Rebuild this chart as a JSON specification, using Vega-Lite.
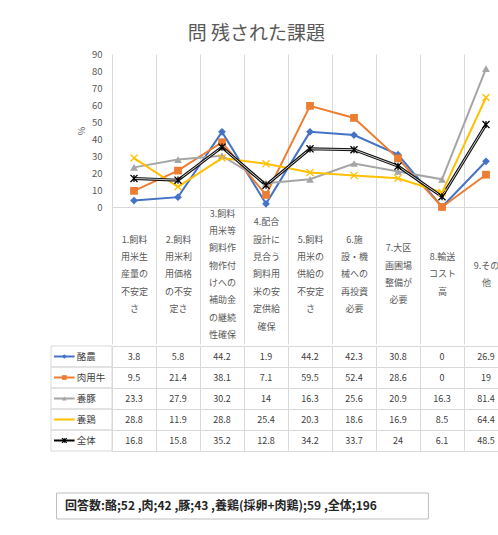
{
  "$schema": "https://vega.github.io/schema/vega-lite/v6.json",
  "padding": {"left": 50, "top": 25, "right": 0, "bottom": 0},
  "background": "white",
  "config": {
    "font": "Noto Sans CJK JP",
    "view": {"stroke": null},
    "axis": {"labelOverlap": false}
  },
  "title": {
    "text": "問 残された課題",
    "fontSize": 19,
    "fontWeight": "normal",
    "color": "#595959",
    "anchor": "middle",
    "dx": -23,
    "offset": 5
  },
  "datasets": {
    "vals": [
      {"n": 1, "series": "酪農", "v": 3.8}, {"n": 2, "series": "酪農", "v": 5.8}, {"n": 3, "series": "酪農", "v": 44.2},
      {"n": 4, "series": "酪農", "v": 1.9}, {"n": 5, "series": "酪農", "v": 44.2}, {"n": 6, "series": "酪農", "v": 42.3},
      {"n": 7, "series": "酪農", "v": 30.8}, {"n": 8, "series": "酪農", "v": 0}, {"n": 9, "series": "酪農", "v": 26.9},
      {"n": 1, "series": "肉用牛", "v": 9.5}, {"n": 2, "series": "肉用牛", "v": 21.4}, {"n": 3, "series": "肉用牛", "v": 38.1},
      {"n": 4, "series": "肉用牛", "v": 7.1}, {"n": 5, "series": "肉用牛", "v": 59.5}, {"n": 6, "series": "肉用牛", "v": 52.4},
      {"n": 7, "series": "肉用牛", "v": 28.6}, {"n": 8, "series": "肉用牛", "v": 0}, {"n": 9, "series": "肉用牛", "v": 19},
      {"n": 1, "series": "養豚", "v": 23.3}, {"n": 2, "series": "養豚", "v": 27.9}, {"n": 3, "series": "養豚", "v": 30.2},
      {"n": 4, "series": "養豚", "v": 14}, {"n": 5, "series": "養豚", "v": 16.3}, {"n": 6, "series": "養豚", "v": 25.6},
      {"n": 7, "series": "養豚", "v": 20.9}, {"n": 8, "series": "養豚", "v": 16.3}, {"n": 9, "series": "養豚", "v": 81.4},
      {"n": 1, "series": "養鶏", "v": 28.8}, {"n": 2, "series": "養鶏", "v": 11.9}, {"n": 3, "series": "養鶏", "v": 28.8},
      {"n": 4, "series": "養鶏", "v": 25.4}, {"n": 5, "series": "養鶏", "v": 20.3}, {"n": 6, "series": "養鶏", "v": 18.6},
      {"n": 7, "series": "養鶏", "v": 16.9}, {"n": 8, "series": "養鶏", "v": 8.5}, {"n": 9, "series": "養鶏", "v": 64.4},
      {"n": 1, "series": "全体", "v": 16.8}, {"n": 2, "series": "全体", "v": 15.8}, {"n": 3, "series": "全体", "v": 35.2},
      {"n": 4, "series": "全体", "v": 12.8}, {"n": 5, "series": "全体", "v": 34.2}, {"n": 6, "series": "全体", "v": 33.7},
      {"n": 7, "series": "全体", "v": 24}, {"n": 8, "series": "全体", "v": 6.1}, {"n": 9, "series": "全体", "v": 48.5}
    ],
    "cats": [
      {"n": 1, "label": "1.飼料\n用米生\n産量の\n不安定\nさ"},
      {"n": 2, "label": "2.飼料\n用米利\n用価格\nの不安\n定さ"},
      {"n": 3, "label": "3.飼料\n用米等\n飼料作\n物作付\nけへの\n補助金\nの継続\n性確保"},
      {"n": 4, "label": "4.配合\n設計に\n見合う\n飼料用\n米の安\n定供給\n確保"},
      {"n": 5, "label": "5.飼料\n用米の\n供給の\n不安定\nさ"},
      {"n": 6, "label": "6.施\n設・機\n械への\n再投資\n必要"},
      {"n": 7, "label": "7.大区\n画圃場\n整備が\n必要"},
      {"n": 8, "label": "8.輸送\nコスト\n高"},
      {"n": 9, "label": "9.その\n他"}
    ],
    "note": [
      {"t": "回答数:酪;52 ,肉;42 ,豚;43 ,養鶏(採卵+肉鶏);59 ,全体;196"}
    ]
  },
  "spacing": 40,
  "vconcat": [
    {
      "spacing": 0,
      "vconcat": [
        {
          "width": 396,
          "height": 153,
          "data": {"name": "vals"},
          "transform": [
            {"lookup": "n", "from": {"data": {"name": "cats"}, "key": "n", "fields": ["label"]}}
          ],
          "layer": [
            {
              "transform": [{"filter": "datum.series !== '全体'"}],
              "mark": {"type": "line", "strokeWidth": 2},
              "encoding": {
                "x": {
                  "field": "label", "type": "nominal", "sort": {"field": "n", "op": "min"}, "bandPosition": 0.5,
                  "scale": {"type": "band", "paddingInner": 0, "paddingOuter": 0},
                  "axis": {
                    "orient": "bottom", "title": null, "tickBand": "extent",
                    "grid": true, "gridColor": "#d9d9d9",
                    "domain": true, "domainColor": "#d9d9d9",
                    "ticks": true, "tickSize": 137, "tickColor": "#d9d9d9",
                    "labelAngle": 0, "labelAlign": "center", "labelBaseline": "top",
                    "labelLineHeight": 8.7, "labelFontSize": 9, "labelColor": "#595959",
                    "labelPadding": -135, "labelOverlap": false, "labelLimit": 0,
                    "labelExpr": "split(pad('', 8 - length(split(datum.label, '\\n')), '\u200b|') + join(split(datum.label, '\\n'), '|\u200b|'), '|')"
                  }
                },
                "y": {
                  "field": "v", "type": "quantitative",
                  "scale": {"domain": [0, 90], "nice": false},
                  "axis": {"values": [0, 10, 20, 30, 40, 50, 60, 70, 80, 90], "tickCount": 10, "labelOverlap": false, "grid": false, "domain": false, "ticks": false, "labelPadding": 10, "labelFontSize": 9.5, "labelColor": "#595959", "title": "%", "titleFontSize": 9, "titleFontWeight": "normal", "titleColor": "#595959", "titlePadding": 5}
                },
                "color": {
                  "field": "series", "type": "nominal", "legend": null,
                  "scale": {"domain": ["酪農", "肉用牛", "養豚", "養鶏", "全体"], "range": ["#4472C4", "#ED7D31", "#A5A5A5", "#FFC000", "#000000"]}
                }
              }
            },
            {
              "transform": [{"filter": "datum.series === '全体'"}],
              "mark": {"type": "line", "strokeWidth": 3, "color": "#111111"},
              "encoding": {
                "x": {"field": "label", "type": "nominal", "sort": {"field": "n", "op": "min"}, "bandPosition": 0.5},
                "y": {"field": "v", "type": "quantitative"}
              }
            },
            {
              "transform": [{"filter": "datum.series === '全体'"}],
              "mark": {"type": "line", "strokeWidth": 1, "color": "#c8c8c8"},
              "encoding": {
                "x": {"field": "label", "type": "nominal", "sort": {"field": "n", "op": "min"}, "bandPosition": 0.5},
                "y": {"field": "v", "type": "quantitative"}
              }
            },
            {
              "transform": [{"filter": "datum.series === '酪農' || datum.series === '肉用牛' || datum.series === '養豚'"}],
              "mark": {"type": "point", "filled": true, "opacity": 1, "size": 60},
              "encoding": {
                "x": {"field": "label", "type": "nominal", "sort": {"field": "n", "op": "min"}, "bandPosition": 0.5},
                "y": {"field": "v", "type": "quantitative"},
                "color": {"field": "series", "type": "nominal", "legend": null},
                "shape": {
                  "field": "series", "type": "nominal", "legend": null,
                  "scale": {"domain": ["酪農", "肉用牛", "養豚", "養鶏", "全体"], "range": ["diamond", "square", "triangle-up", "M-1,-1L1,1M-1,1L1,-1", "M-1,-1L1,1M-1,1L1,-1M0,-1L0,1"]}
                }
              }
            },
            {
              "transform": [{"filter": "datum.series === '養鶏' || datum.series === '全体'"}],
              "mark": {"type": "point", "filled": false, "opacity": 1, "size": 50, "strokeWidth": 1.3},
              "encoding": {
                "x": {"field": "label", "type": "nominal", "sort": {"field": "n", "op": "min"}, "bandPosition": 0.5},
                "y": {"field": "v", "type": "quantitative"},
                "color": {"field": "series", "type": "nominal", "legend": null},
                "shape": {"field": "series", "type": "nominal", "legend": null}
              }
            }
          ]
        },
        {
          "width": 396,
          "height": 105,
          "data": {"name": "vals"},
          "view": {"stroke": "#d9d9d9"},
          "layer": [
            {
              "mark": {"type": "text", "fontSize": 9, "color": "#404040"},
              "encoding": {
                "x": {
                  "field": "n", "type": "quantitative",
                  "scale": {"domain": [0.5, 9.5], "nice": false, "zero": false},
                  "axis": {"grid": true, "values": [1.5, 2.5, 3.5, 4.5, 5.5, 6.5, 7.5, 8.5], "tickCount": 20, "labels": false, "ticks": false, "domain": false, "title": null, "gridColor": "#d9d9d9"}
                },
                "y": {
                  "field": "series", "type": "nominal",
                  "scale": {"type": "band", "domain": ["酪農", "肉用牛", "養豚", "養鶏", "全体"], "paddingInner": 0, "paddingOuter": 0},
                  "axis": {"grid": true, "tickBand": "extent", "labels": false, "ticks": false, "domain": false, "title": null, "gridColor": "#d9d9d9"}
                },
                "text": {"field": "v", "type": "nominal"}
              }
            },
            {
              "transform": [{"filter": "datum.n === 1"}],
              "mark": {"type": "rect", "fill": null, "fillOpacity": 0, "stroke": "#d9d9d9", "strokeWidth": 1},
              "encoding": {
                "x": {"datum": -0.886},
                "x2": {"datum": 0.5},
                "y": {"field": "series", "type": "nominal"}
              }
            },
            {
              "transform": [{"filter": "datum.n === 1"}],
              "mark": {"type": "text", "align": "left", "fontSize": 9.5, "color": "#404040"},
              "encoding": {
                "x": {"datum": -0.3},
                "y": {"field": "series", "type": "nominal"},
                "text": {"field": "series"}
              }
            },
            {
              "transform": [{"filter": "datum.n === 1"}],
              "mark": {"type": "rule", "strokeWidth": 2},
              "encoding": {
                "x": {"datum": -0.818},
                "x2": {"datum": -0.35},
                "y": {"field": "series", "type": "nominal"},
                "color": {
                  "field": "series", "type": "nominal", "legend": null,
                  "scale": {"domain": ["酪農", "肉用牛", "養豚", "養鶏", "全体"], "range": ["#4472C4", "#ED7D31", "#A5A5A5", "#FFC000", "#000000"]}
                }
              }
            },
            {
              "transform": [{"filter": "datum.n === 1 && (datum.series === '酪農' || datum.series === '肉用牛' || datum.series === '養豚')"}],
              "mark": {"type": "point", "filled": true, "opacity": 1, "size": 22},
              "encoding": {
                "x": {"datum": -0.584},
                "y": {"field": "series", "type": "nominal"},
                "color": {"field": "series", "type": "nominal", "legend": null},
                "shape": {
                  "field": "series", "type": "nominal", "legend": null,
                  "scale": {"domain": ["酪農", "肉用牛", "養豚", "養鶏", "全体"], "range": ["diamond", "square", "triangle-up", "M-1,-1L1,1M-1,1L1,-1", "M-1,-1L1,1M-1,1L1,-1M0,-1L0,1"]}
                }
              }
            },
            {
              "transform": [{"filter": "datum.n === 1 && datum.series === '全体'"}],
              "mark": {"type": "point", "filled": false, "opacity": 1, "size": 22, "strokeWidth": 1.2},
              "encoding": {
                "x": {"datum": -0.584},
                "y": {"field": "series", "type": "nominal"},
                "color": {"field": "series", "type": "nominal", "legend": null},
                "shape": {"field": "series", "type": "nominal", "legend": null}
              }
            }
          ]
        }
      ]
    },
    {
      "width": 396,
      "height": 26,
      "data": {"name": "note"},
      "layer": [
        {
          "mark": {"type": "rect", "fill": "white", "stroke": "#bfbfbf", "strokeWidth": 1},
          "encoding": {
            "x": {"datum": -0.761, "type": "quantitative", "scale": {"domain": [0.5, 9.5], "nice": false, "zero": false}, "axis": null},
            "x2": {"datum": 7.69}
          }
        },
        {
          "mark": {"type": "text", "align": "left", "fontSize": 12, "fontWeight": "bold", "color": "#262626"},
          "encoding": {
            "x": {"datum": -0.568, "type": "quantitative"},
            "text": {"field": "t"}
          }
        }
      ]
    }
  ]
}
